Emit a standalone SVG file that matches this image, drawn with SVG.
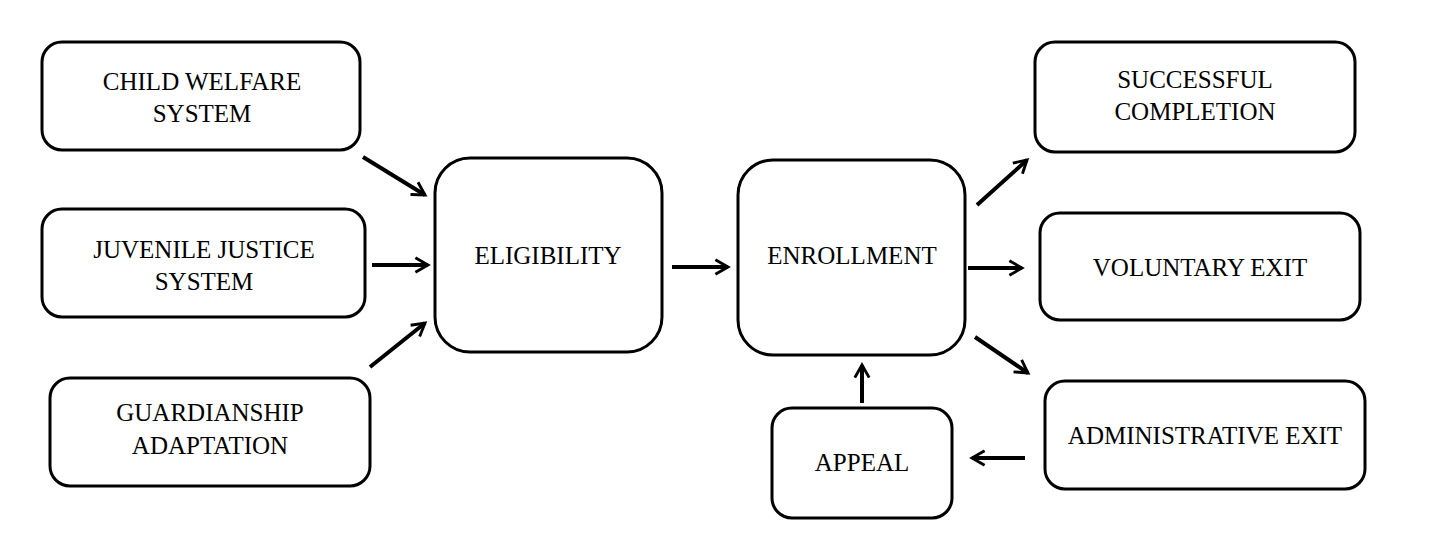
<svg xmlns="http://www.w3.org/2000/svg" width="1432" height="550" viewBox="0 0 1432 550">
<style>
.b{fill:#fff;stroke:#000;stroke-width:3}
text{font-family:"Liberation Serif",serif;font-size:25px;text-anchor:middle;fill:#000}
.c line{stroke:#000;stroke-width:4;marker-end:url(#a)}
</style>
<defs><marker id="a" viewBox="0 0 10 10" refX="8" refY="5" markerWidth="4.5" markerHeight="4.5" orient="auto" markerUnits="strokeWidth"><path d="M1,1 L8,5 L1,9" fill="none" stroke="#000" stroke-width="1.6"/></marker></defs>
<rect width="1432" height="550" fill="#fff"/>
<g id="child"><rect class="b" x="42" y="42" width="318" height="108" rx="20"/><text x="202" y="90">CHILD WELFARE</text><text x="202" y="122">SYSTEM</text></g>
<g id="juvenile"><rect class="b" x="42" y="209" width="323" height="108" rx="20"/><text x="204" y="258">JUVENILE JUSTICE</text><text x="204" y="290">SYSTEM</text></g>
<g id="guardianship"><rect class="b" x="50" y="378" width="320" height="108" rx="20"/><text x="210" y="421">GUARDIANSHIP</text><text x="210" y="454">ADAPTATION</text></g>
<g id="eligibility"><rect class="b" x="435" y="158" width="227" height="194" rx="35"/><text x="548" y="264">ELIGIBILITY</text></g>
<g id="enrollment"><rect class="b" x="738" y="160" width="227" height="195" rx="35"/><text x="852" y="264">ENROLLMENT</text></g>
<g id="successful"><rect class="b" x="1035" y="42" width="320" height="110" rx="20"/><text x="1195" y="88">SUCCESSFUL</text><text x="1195" y="120">COMPLETION</text></g>
<g id="voluntary"><rect class="b" x="1040" y="213" width="320" height="107" rx="20"/><text x="1200" y="276">VOLUNTARY EXIT</text></g>
<g id="administrative"><rect class="b" x="1045" y="381" width="320" height="108" rx="20"/><text x="1205" y="444">ADMINISTRATIVE EXIT</text></g>
<g id="appeal"><rect class="b" x="772" y="408" width="180" height="110" rx="20"/><text x="862" y="471">APPEAL</text></g>
<g class="c">
<line x1="363" y1="157" x2="425" y2="195"/>
<line x1="372" y1="265" x2="428" y2="265"/>
<line x1="370" y1="367" x2="425" y2="323"/>
<line x1="672" y1="267" x2="728" y2="267"/>
<line x1="977" y1="205" x2="1027" y2="160"/>
<line x1="968" y1="268" x2="1022" y2="268"/>
<line x1="975" y1="337" x2="1028" y2="373"/>
<line x1="1025" y1="458" x2="972" y2="458"/>
<line x1="862" y1="403" x2="862" y2="365"/>
</g>
</svg>
